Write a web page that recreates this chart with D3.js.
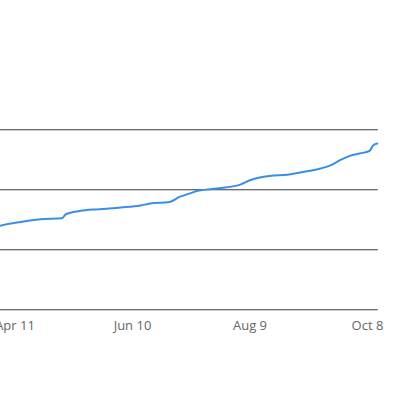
<!DOCTYPE html>
<html>
<head>
<meta charset="utf-8">
<script src="https://cdn.jsdelivr.net/npm/d3@7"></script>
<style>
  body { margin: 0; background: #fff; }
  .axis-label { font-family: "Open Sans", sans-serif; font-size: 13px; fill: #666; }
</style>
</head>
<body>
<div id="canvas"></div>
<script>
// ---- DATA ----
var dates = ['2020-04-01','2020-04-03','2020-04-14','2020-04-24','2020-05-05','2020-05-07',
    '2020-05-14','2020-05-24','2020-06-04','2020-06-14','2020-06-19','2020-06-29',
    '2020-07-04','2020-07-09','2020-07-14','2020-07-23','2020-08-04','2020-08-09',
    '2020-08-14','2020-08-19','2020-08-29','2020-09-03','2020-09-14','2020-09-20',
    '2020-09-24','2020-09-29','2020-10-04','2020-10-09','2020-10-11','2020-10-13'];
var values = [68.9, 69.8, 73.2, 75.4, 76.3, 79.6,
    82.3, 83.8, 85.2, 86.8, 88.5, 89.8,
    94.0, 96.8, 99.3, 101.0, 104.3, 107.9,
    110.2, 111.5, 112.7, 114.2, 117.7, 121.0,
    124.6, 128.2, 130.2, 132.3, 137.1, 138.5];
var yTicks = [0, 50, 100, 150];
var xTicks = ['2020-04-11','2020-06-10','2020-08-09','2020-10-08'];

var parseDate = d3.timeParse('%Y-%m-%d');
var rows = dates.map(function(d, i){ return {date: parseDate(d), value: values[i]}; });

// ---- CONVENTIONS ----
var outerWidth = 400, outerHeight = 400;

var svg = d3.select('#canvas')
    .append('svg')
    .attr('width', outerWidth)
    .attr('height', outerHeight)
    .style('display', 'block');

// ---- SCALES ----
// the plot runs off the left edge; first tick sits at x=15
var scaleX = d3.scaleTime()
    .domain([parseDate(xTicks[0]), parseDate(xTicks[3])])
    .range([15, 367.5]);

var scaleY = d3.scaleLinear()
    .domain([0, 150])
    .range([309.75, 129.75]);

var right = scaleX(rows[rows.length - 1].date) + 0.5;

// ---- GRID ----
svg.selectAll('.grid')
    .data(yTicks)
    .enter()
    .append('line')
    .attr('class', 'grid')
    .attr('x1', -10)
    .attr('x2', right)
    .attr('y1', function(d){ return scaleY(d); })
    .attr('y2', function(d){ return scaleY(d); })
    .style('stroke', '#3a3a3a')
    .style('stroke-width', 1);

// ---- X LABELS ----
var fmt = d3.timeFormat('%b %-d');
svg.selectAll('.axis-label')
    .data(xTicks)
    .enter()
    .append('text')
    .attr('class', 'axis-label')
    .attr('x', function(d){ return scaleX(parseDate(d)); })
    .attr('y', 329.5)
    .attr('text-anchor', 'middle')
    .text(function(d){ return fmt(parseDate(d)); });

// ---- LINE ----
var lineGenerator = d3.line()
    .x(function(d){ return scaleX(d.date); })
    .y(function(d){ return scaleY(d.value); })
    .curve(d3.curveMonotoneX);

svg.append('path')
    .datum(rows)
    .attr('d', lineGenerator)
    .style('fill', 'none')
    .style('stroke', '#3a8ee6')
    .style('stroke-width', 2)
    .style('stroke-linejoin', 'round')
    .style('stroke-linecap', 'round');
</script>
</body>
</html>
